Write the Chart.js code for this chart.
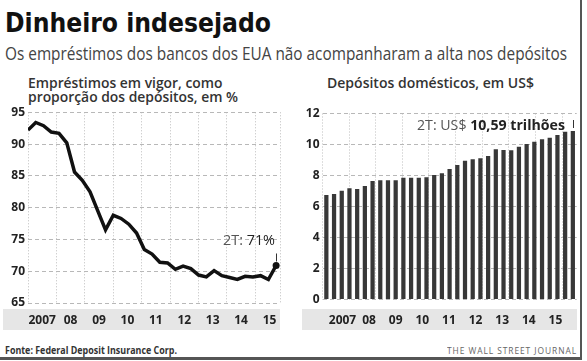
<!DOCTYPE html>
<html>
<head>
<meta charset="utf-8">
<script src="https://cdn.jsdelivr.net/npm/chart.js@4.4.1/dist/chart.umd.min.js"></script>
<style>
  html, body { margin: 0; padding: 0; background: #fff; }
  body { width: 587px; height: 361px; position: relative; overflow: hidden; font-family: "Open Sans", sans-serif; }
  .txt { position: absolute; white-space: nowrap; transform-origin: 0 0; }
  #title { left: 5px; top: 10px; font: bold 26px/26px "DejaVu Sans", sans-serif; color: #111; }
  #subtitle { left: 5px; top: 44px; font: 18px/18px "Open Sans", sans-serif; color: #444; }
  #leftTitle { left: 28px; top: 76px; font: 600 14px/13.5px "Open Sans", sans-serif; color: #333; }
  #rightTitle { left: 327px; top: 76px; font: 600 14px/13.5px "Open Sans", sans-serif; color: #333; }
  .band { position: absolute; background: #e6e6e6; top: 309px; height: 21px; }
  #leftBand { left: 3px; width: 277px; }
  #rightBand { left: 302px; width: 275px; }
  .box { position: absolute; top: 100px; height: 240px; }
  #leftBox { left: 0; width: 290px; }
  #rightBox { left: 295px; width: 292px; }
  #leftNote { left: 223px; top: 233px; font: 14px/14px "Open Sans", sans-serif; color: #555; }
  #leftNote b { font-weight: normal; color: #222; }
  #rightNote { left: 417px; top: 118px; font: 14px/14px "Open Sans", sans-serif; color: #555; }
  #rightNote b { color: #222; }
  #source { left: 5px; top: 345px; font: bold 10px/10px "Open Sans", sans-serif; color: #333; }
  #wsj { left: 447px; top: 346px; font: 9px/9px "Open Sans", sans-serif; color: #666; letter-spacing: 1px; }
  #frame { position: absolute; left: 0; top: 0; width: 580px; height: 357px; border-right: 2px solid #555; border-bottom: 3px solid #555; }
</style>
</head>
<body>
<div id="frame"></div>
<div class="txt" id="title">Dinheiro indesejado</div>
<div class="txt" id="subtitle">Os empréstimos dos bancos dos EUA não acompanharam a alta nos depósitos</div>
<div class="txt" id="leftTitle">Empréstimos em vigor, como<br>proporção dos depósitos, em %</div>
<div class="txt" id="rightTitle">Depósitos domésticos, em US$</div>
<div class="band" id="leftBand"></div>
<div class="band" id="rightBand"></div>
<div class="box" id="leftBox"><canvas id="loanChart"></canvas></div>
<div class="box" id="rightBox"><canvas id="depositChart"></canvas></div>
<div class="txt" id="leftNote">2T: <b>71%</b></div>
<div class="txt" id="rightNote">2T: US$ <b>10,59 trilhões</b></div>
<div class="txt" id="source">Fonte: Federal Deposit Insurance Corp.</div>
<div class="txt" id="wsj">THE WALL STREET JOURNAL</div>

<script>
// Data (quarterly, up to 2T 2015)
const years = ['2007', '08', '09', '10', '11', '12', '13', '14', '15'];
const quarters = ['2T07', '3T07', '4T07', '1T08', '2T08', '3T08', '4T08', '1T09', '2T09', '3T09', '4T09',
    '1T10', '2T10', '3T10', '4T10', '1T11', '2T11', '3T11', '4T11', '1T12', '2T12', '3T12', '4T12',
    '1T13', '2T13', '3T13', '4T13', '1T14', '2T14', '3T14', '4T14', '1T15', '2T15'];
// loans as % of deposits
const loanRatio = [92.2, 93.4, 92.9, 91.9, 91.7, 90.2, 85.6, 84.3, 82.5, 79.5, 76.5,
    78.8, 78.3, 77.4, 76.0, 73.4, 72.7, 71.4, 71.3, 70.3, 70.8, 70.4, 69.4,
    69.1, 70.1, 69.3, 69.0, 68.7, 69.2, 69.1, 69.3, 68.7, 70.9];
// domestic deposits, US$ trillion
const deposits = [6.74, 6.81, 7.02, 7.17, 7.13, 7.32, 7.65, 7.69, 7.69, 7.69, 7.86,
    7.86, 7.86, 7.88, 8.03, 8.14, 8.42, 8.68, 8.95, 9.05, 9.11, 9.26, 9.69,
    9.65, 9.63, 9.86, 10.03, 10.18, 10.34, 10.44, 10.61, 10.83, 10.87];
const loanTicks = [65, 70, 75, 80, 85, 90, 95];
const depositTicks = [0, 2, 4, 6, 8, 10, 12];

Chart.defaults.font.family = '"Open Sans", sans-serif';
Chart.defaults.animation = false;

// squeeze the html texts to the widths they have in the print graphic
function fit(id, w) {
    const el = document.getElementById(id);
    const natural = el.getBoundingClientRect().width;
    el.style.transform = 'scaleX(' + (w / natural) + ')';
}
fit('title', 266);
fit('subtitle', 562);
fit('leftTitle', 210);
fit('rightTitle', 207);
fit('leftNote', 52);
fit('rightNote', 148);
fit('source', 172);
fit('wsj', 130);

const tickFont = { size: 12, weight: 'bold' };

// x axis with the years: grid at year boundaries, label in the middle of each year
function yearAxis(span, height, pad) {
    return {
        type: 'linear',
        position: 'bottom',
        min: 0,
        max: span,
        afterBuildTicks: axis => {
            const t = [];
            years.forEach((y, i) => { t.push({ value: i }); t.push({ value: i + 0.5 }); });
            t.push({ value: span });
            axis.ticks = t;
        },
        afterFit: s => { s.height = height; },
        ticks: {
            autoSkip: false, maxRotation: 0, minRotation: 0, padding: pad,
            color: '#222', font: tickFont,
            callback: v => (v % 1 === 0.5) ? years[Math.floor(v)] : ''
        },
        grid: {
            drawTicks: false,
            color: ctx => (ctx.tick && ctx.tick.value % 1 !== 0.5) ? '#bdbdbd' : 'rgba(0,0,0,0)'
        },
        border: { display: false, dash: [1, 2] }
    };
}

function valueAxis(list, width) {
    return {
        min: list[0],
        max: list[list.length - 1],
        afterBuildTicks: axis => { axis.ticks = list.map(v => ({ value: v })); },
        afterFit: s => { s.width = width; },
        ticks: { padding: 3, color: '#222', font: tickFont },
        grid: { drawTicks: false, color: '#b8b8b8' },
        border: { display: false, dash: [4, 3] }
    };
}

// little vertical stroke between the note and the last mark
const noteTick = {
    id: 'noteTick',
    afterDatasetsDraw(chart, args, opts) {
        const pts = chart.getDatasetMeta(0).data;
        const p = pts[pts.length - 1];
        const ctx = chart.ctx;
        ctx.save();
        ctx.strokeStyle = '#333';
        ctx.lineWidth = 1;
        ctx.beginPath();
        ctx.moveTo(Math.round(p.x) + 0.5, p.y - opts.from);
        ctx.lineTo(Math.round(p.x) + 0.5, p.y - opts.to);
        ctx.stroke();
        ctx.restore();
    }
};

new Chart(document.getElementById('loanChart'), {
    type: 'line',
    data: {
        datasets: [{
            data: loanRatio.map((v, i) => ({ x: i, y: v })),
            borderColor: '#111',
            borderWidth: 3.5,
            tension: 0,
            pointRadius: ctx => ctx.dataIndex === loanRatio.length - 1 ? 3.5 : 0,
            pointBackgroundColor: '#111',
            pointBorderWidth: 0
        }]
    },
    options: {
        responsive: true,
        maintainAspectRatio: false,
        layout: { padding: { top: 12.3, right: 10, left: 0, bottom: 0 } },
        scales: {
            x: { type: 'linear', min: 0, max: 32.5, display: false },
            yr: yearAxis(8.87, 37, 10),
            y: valueAxis(loanTicks, 28)
        },
        plugins: {
            legend: { display: false },
            tooltip: { enabled: false },
            noteTick: { from: 12, to: 4 }
        }
    },
    plugins: [noteTick]
});

new Chart(document.getElementById('depositChart'), {
    type: 'bar',
    data: {
        labels: quarters,
        datasets: [{
            data: deposits,
            backgroundColor: '#383838',
            barPercentage: 0.55,
            categoryPercentage: 1
        }]
    },
    options: {
        responsive: true,
        maintainAspectRatio: false,
        layout: { padding: { top: 13.5, right: 10.3, left: 0, bottom: 0 } },
        scales: {
            x: { type: 'category', offset: true, display: false },
            yr: yearAxis(9.05, 40.5, 13.5),
            y: valueAxis(depositTicks, 27.5)
        },
        plugins: {
            legend: { display: false },
            tooltip: { enabled: false },
            noteTick: { from: 11, to: 3 }
        }
    },
    plugins: [noteTick]
});
</script>
</body>
</html>
